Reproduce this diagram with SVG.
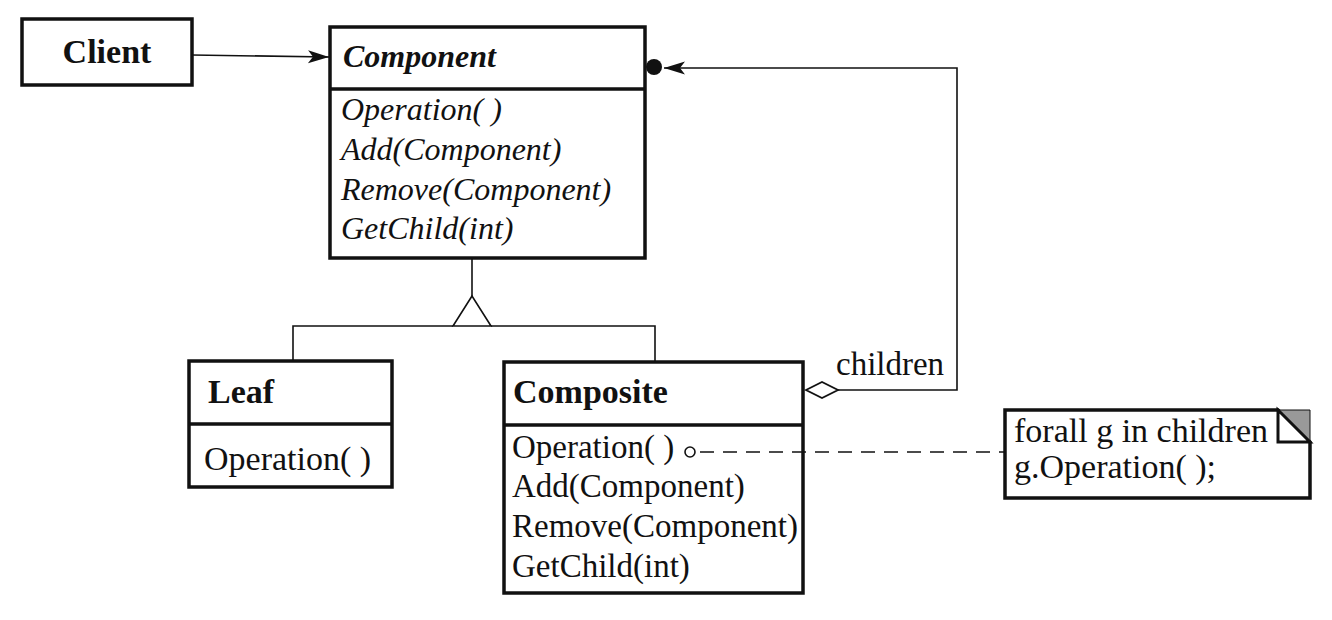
<svg xmlns="http://www.w3.org/2000/svg" width="1332" height="620" viewBox="0 0 1332 620">
<style>
  .box{fill:#fff;stroke:#111;stroke-width:3.5}
  .div{stroke:#111;stroke-width:3.5}
  .ln{fill:none;stroke:#111;stroke-width:1.6}
  .t{font-family:"Liberation Serif","Times New Roman",serif;fill:#111}
  .b{font-weight:bold;font-size:34px}
  .bi{font-weight:bold;font-style:italic;font-size:32px}
  .i{font-style:italic;font-size:32px}
  .r{font-size:33px}
  .r34{font-size:34px}
</style>
<defs>
  <marker id="arr" markerWidth="24" markerHeight="16" refX="22" refY="8" orient="auto" markerUnits="userSpaceOnUse">
    <path d="M22,8 L1,1.5 L6,8 L1,14.5 Z" fill="#111"/>
  </marker>
</defs>
<rect width="1332" height="620" fill="#fff"/>

<g id="client">
  <rect class="box" x="22" y="19" width="170" height="66"/>
  <text class="t b" x="107" y="63" text-anchor="middle">Client</text>
</g>

<g id="component">
  <rect class="box" x="330" y="27" width="315" height="231"/>
  <line class="div" x1="330" y1="89" x2="645" y2="89"/>
  <text class="t bi" x="343" y="67">Component</text>
  <text class="t i" x="341" y="120">Operation( )</text>
  <text class="t i" x="341" y="160">Add(Component)</text>
  <text class="t i" x="341" y="200">Remove(Component)</text>
  <text class="t i" x="341" y="239">GetChild(int)</text>
</g>

<g id="leaf">
  <rect class="box" x="189" y="361" width="203" height="126"/>
  <line class="div" x1="189" y1="424" x2="392" y2="424"/>
  <text class="t b" x="208" y="403">Leaf</text>
  <text class="t r34" x="204" y="470">Operation( )</text>
</g>

<g id="composite">
  <rect class="box" x="504" y="362" width="299" height="231"/>
  <line class="div" x1="504" y1="425" x2="803" y2="425"/>
  <text class="t b" x="513" y="403">Composite</text>
  <text class="t r" x="512" y="458">Operation( )</text>
  <text class="t r" x="512" y="497">Add(Component)</text>
  <text class="t r" x="512" y="537">Remove(Component)</text>
  <text class="t r" x="512" y="577">GetChild(int)</text>
</g>

<g id="note">
  <path class="box" d="M1005,410 H1278 L1310,442 V498 H1005 Z"/>
  <polygon points="1278,410 1310,410 1310,442" fill="#999" stroke="#111" stroke-width="1"/>
  <polygon points="1278,410 1310,442 1278,442" fill="#fff" stroke="#111" stroke-width="3"/>
  <text class="t r34" x="1014" y="442">forall g in children</text>
  <text class="t r34" x="1014" y="478">g.Operation( );</text>
</g>

<g id="connectors">
  <line class="ln" x1="192" y1="55" x2="329" y2="57" marker-end="url(#arr)"/>
  <path class="ln" d="M472,258 V296"/>
  <polygon points="472,296 453,326 491,326" fill="#fff" stroke="#111" stroke-width="1.6"/>
  <path class="ln" d="M293,361 V326 H453 M491,326 H655 V362"/>
  <path class="ln" d="M838,390 H957 V68 H664" marker-end="url(#arr)"/>
  <polygon points="806,390 822,382 838,390 822,398" fill="#fff" stroke="#111" stroke-width="1.8"/>
  <circle cx="654" cy="67" r="8" fill="#111"/>
  <text class="t r" x="836" y="375">children</text>
  <circle cx="690" cy="452" r="5" fill="#fff" stroke="#111" stroke-width="1.6"/>
  <line class="ln" x1="700" y1="452" x2="1005" y2="452" stroke-dasharray="14 9"/>
</g>
</svg>
